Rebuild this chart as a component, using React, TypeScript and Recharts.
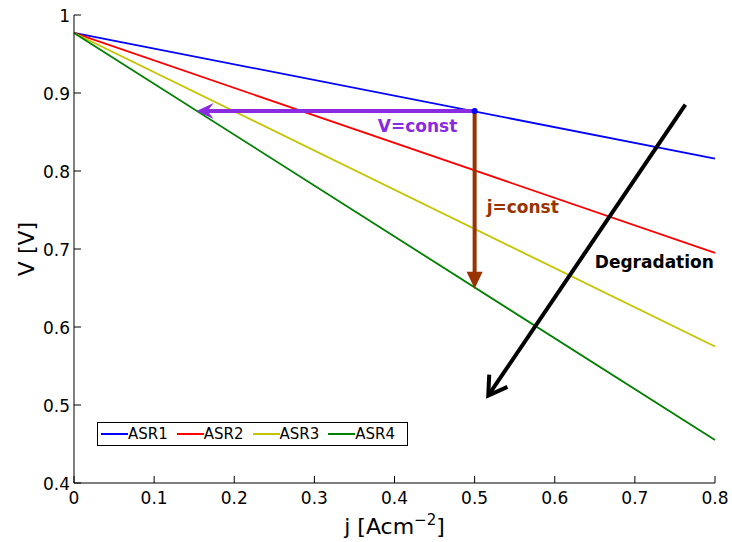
import { LineChart, Line, XAxis, YAxis, ReferenceLine, ReferenceDot, Legend } from 'recharts'

// current density j [A/cm2] and cell voltage V for each area-specific resistance
const J_VALUES = [0, 0.8]
const ASR1 = [0.977, 0.816]
const ASR2 = [0.977, 0.695]
const ASR3 = [0.977, 0.575]
const ASR4 = [0.977, 0.455]

const SERIES = ['ASR1', 'ASR2', 'ASR3', 'ASR4']
const COLORS = ['#0000ff', '#ff0000', '#c4c400', '#008000']

const X_TICKS = [0, 0.1, 0.2, 0.3, 0.4, 0.5, 0.6, 0.7, 0.8]
const Y_TICKS = [0.4, 0.5, 0.6, 0.7, 0.8, 0.9, 1]

// annotation arrows (data coordinates)
const OPERATING_POINT = { j: 0.5, v: 0.877 }
const V_CONST_END = { j: 0.153, v: 0.877 }
const J_CONST_END = { j: 0.5, v: 0.649 }
const DEGRADATION_START = { j: 0.763, v: 0.885 }
const DEGRADATION_END = { j: 0.517, v: 0.512 }

const PURPLE = '#8a2be2'
const BROWN = '#993300'
const FONT = '"DejaVu Sans", sans-serif'

const data = J_VALUES.map((j, i) => ({
  j,
  ASR1: ASR1[i],
  ASR2: ASR2[i],
  ASR3: ASR3[i],
  ASR4: ASR4[i],
}))

function XTick({ x, y, payload }: any) {
  return (
    <g>
      <line x1={x} x2={x} y1={y} y2={y - 7} stroke="#000" />
      <text x={x} y={y + 21} textAnchor="middle" fontFamily={FONT} fontSize={17} fill="#000">
        {payload.value}
      </text>
    </g>
  )
}

function YTick({ x, y, payload }: any) {
  return (
    <g>
      <line x1={x} x2={x + 7} y1={y} y2={y} stroke="#000" />
      <text x={x - 4} y={y + 6.5} textAnchor="end" fontFamily={FONT} fontSize={17} fill="#000">
        {payload.value}
      </text>
    </g>
  )
}

function XTitle(props: any) {
  const vb = props.viewBox ?? { x: 74, y: 483, width: 641 }
  return (
    <text x={vb.x + vb.width / 2} y={534} textAnchor="middle" fontFamily={FONT} fontSize={22} fill="#000">
      j [Acm<tspan fontSize={15} dy={-9}>−2</tspan><tspan dy={9}>]</tspan>
    </text>
  )
}

function YTitle(props: any) {
  const vb = props.viewBox ?? { y: 15, height: 468 }
  const cy = vb.y + vb.height / 2
  return (
    <text x={34} y={cy} transform={`rotate(-90 34 ${cy})`} textAnchor="middle" fontFamily={FONT} fontSize={22} fill="#000">
      V [V]
    </text>
  )
}

type ArrowOpts = { color: string; head: 'stealth' | 'triangle' | 'open'; text?: string; tx?: number; ty?: number; anchor?: string }

function arrowShape(o: ArrowOpts) {
  return (p: any) => {
    const { x1, y1, x2, y2 } = p
    const dx = x2 - x1
    const dy = y2 - y1
    const len = Math.sqrt(dx * dx + dy * dy) || 1
    const ux = dx / len
    const uy = dy / len
    const nx = -uy
    const ny = ux
    const hl = o.head === 'open' ? 18 : 17
    const hw = o.head === 'open' ? 11 : 8
    const bx = x2 - ux * hl
    const by = y2 - uy * hl
    let head
    if (o.head === 'open') {
      head = (
        <polyline
          points={`${bx + nx * hw},${by + ny * hw} ${x2},${y2} ${bx - nx * hw},${by - ny * hw}`}
          fill="none" stroke={o.color} strokeWidth={4} strokeLinejoin="miter"
        />
      )
    } else if (o.head === 'stealth') {
      const mx = x2 - ux * hl * 0.65
      const my = y2 - uy * hl * 0.65
      head = (
        <polygon
          points={`${x2},${y2} ${bx + nx * hw},${by + ny * hw} ${mx},${my} ${bx - nx * hw},${by - ny * hw}`}
          fill={o.color}
        />
      )
    } else {
      head = (
        <polygon
          points={`${x2},${y2} ${bx + nx * hw},${by + ny * hw} ${bx - nx * hw},${by - ny * hw}`}
          fill={o.color}
        />
      )
    }
    const endX = o.head === 'open' ? x2 - ux * 2 : x2 - ux * hl * 0.6
    const endY = o.head === 'open' ? y2 - uy * 2 : y2 - uy * hl * 0.6
    return (
      <g>
        <line x1={x1} y1={y1} x2={endX} y2={endY} stroke={o.color} strokeWidth={4} />
        {head}
        {o.text && (
          <text
            x={(x1 + x2) / 2 + (o.tx ?? 0)}
            y={(y1 + y2) / 2 + (o.ty ?? 0)}
            textAnchor={o.anchor ?? 'start'}
            fontFamily={FONT}
            fontWeight="bold"
            fontSize={17}
            fill={o.color}
          >
            {o.text}
          </text>
        )}
      </g>
    )
  }
}

function LegendBox() {
  return (
    <div
      style={{
        display: 'flex',
        alignItems: 'center',
        boxSizing: 'border-box',
        width: 311,
        height: 24,
        padding: '0 3px',
        border: '1px solid #000',
        background: '#fff',
        fontFamily: FONT,
        fontSize: 15,
        color: '#000',
      }}
    >
      {SERIES.map((name, i) => (
        <div key={name} style={{ display: 'flex', alignItems: 'center', width: 77 }}>
          <span style={{ display: 'inline-block', width: 27, height: 2, background: COLORS[i] }} />
          <span>{name}</span>
        </div>
      ))}
    </div>
  )
}

export default function App() {
  return (
    <div style={{ position: 'absolute', left: 0, top: 0, background: '#fff' }}>
      <LineChart width={732} height={542} data={data} margin={{ top: 15, right: 17, left: 20, bottom: 14 }}>
        <XAxis
          dataKey="j"
          type="number"
          domain={[0, 0.8]}
          ticks={X_TICKS}
          interval={0}
          tickSize={0}
          tickMargin={0}
          tickLine={false}
          axisLine={{ stroke: '#000' }}
          tick={<XTick />}
          height={45}
          label={<XTitle />}
        />
        <YAxis
          type="number"
          domain={[0.4, 1]}
          ticks={Y_TICKS}
          interval={0}
          tickSize={0}
          tickMargin={0}
          tickLine={false}
          axisLine={{ stroke: '#000' }}
          tick={<YTick />}
          width={54}
          label={<YTitle />}
        />
        {SERIES.map((name, i) => (
          <Line
            key={name}
            dataKey={name}
            type="linear"
            stroke={COLORS[i]}
            strokeWidth={1.8}
            dot={false}
            isAnimationActive={false}
          />
        ))}
        <ReferenceLine
          segment={[{ x: OPERATING_POINT.j, y: OPERATING_POINT.v }, { x: V_CONST_END.j, y: V_CONST_END.v }]}
          shape={arrowShape({ color: PURPLE, head: 'stealth', text: 'V=const', tx: 82, ty: 21, anchor: 'middle' })}
        />
        <ReferenceLine
          segment={[{ x: OPERATING_POINT.j, y: OPERATING_POINT.v }, { x: J_CONST_END.j, y: J_CONST_END.v }]}
          shape={arrowShape({ color: BROWN, head: 'triangle', text: 'j=const', tx: 12, ty: 13 })}
        />
        <ReferenceLine
          segment={[{ x: DEGRADATION_START.j, y: DEGRADATION_START.v }, { x: DEGRADATION_END.j, y: DEGRADATION_END.v }]}
          shape={arrowShape({ color: '#000', head: 'open', text: 'Degradation', tx: 8, ty: 18 })}
        />
        <ReferenceDot x={OPERATING_POINT.j} y={OPERATING_POINT.v} r={3} fill="#0000ff" stroke="none" />
        <Legend
          layout="vertical"
          align="center"
          verticalAlign="middle"
          content={<LegendBox />}
          wrapperStyle={{ left: 97, top: 422, width: 311, height: 24, right: 'auto', bottom: 'auto' }}
        />
      </LineChart>
    </div>
  )
}
